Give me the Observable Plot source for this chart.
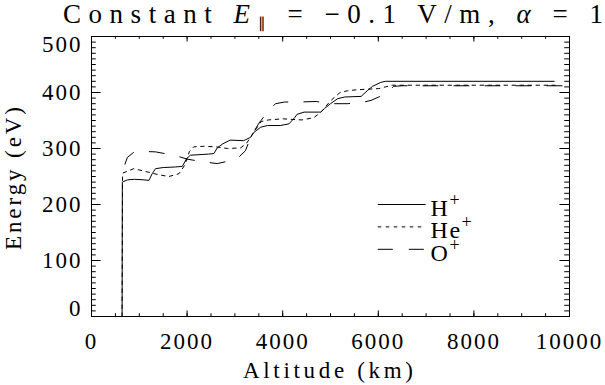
<!DOCTYPE html>
<html><head><meta charset="utf-8">
<script src="https://cdn.jsdelivr.net/npm/d3@7"></script>
<script src="https://cdn.jsdelivr.net/npm/@observablehq/plot@0.6"></script>
<style>body{margin:0;background:#fff} svg{display:block}</style>
</head><body><div id="chart"></div>
<script>
// H+ (solid)
const hAlt    = [640, 645, 750, 900, 1100, 1200, 1270, 1340, 1500, 1750, 1900, 1990, 2070, 2250, 2450, 2560, 2630, 2740, 2900, 3180, 3330, 3400, 3540, 3680, 3950, 4130, 4250, 4300, 4450, 4800, 4870, 5000, 5150, 5300, 5640, 5780, 5880, 6050, 6150, 9680];
const hEnergy = [0, 240, 244, 245, 244, 243, 255, 264, 266, 267, 268, 282, 288, 289, 290, 291, 301, 308, 315, 314, 320, 329, 338, 341, 341, 344, 355, 361, 365, 365, 371, 380, 389, 392, 393, 404, 411, 418, 420, 420];
// He+ (short dashes)
const heAlt    = [640, 650, 885, 1130, 1410, 1620, 1830, 1950, 2050, 2140, 2350, 2600, 2850, 3120, 3250, 3400, 3550, 3700, 4000, 4400, 4650, 4800, 5000, 5200, 5350, 5560, 5800, 6010, 6150, 6300, 9700];
const heEnergy = [0, 256, 264, 259, 253, 250, 255, 270, 295, 303, 304, 303, 300, 301, 310, 330, 348, 351, 353, 351, 355, 365, 385, 400, 403, 405, 406, 407, 410, 413, 413];
// O+ (long dashes)
const oAlt    = [700, 750, 880, 1000, 1340, 1650, 1850, 2000, 2280, 2630, 2940, 3050, 3220, 3330, 3500, 3710, 3850, 4040, 4350, 4700, 4960, 5350, 5660, 5850, 6010, 6190, 6320, 6500, 9950];
const oEnergy = [272, 284, 293, 295, 294, 289, 285, 281, 277, 273, 279, 282, 296, 320, 345, 368, 380, 383, 383, 384, 380, 380, 382, 386, 392, 400, 411, 412, 412];

const xTicks = [0, 2000, 4000, 6000, 8000, 10000];
const yTicks = [0, 100, 200, 300, 400, 500];
const xMinor = d3.range(0, 10001, 500);
const yMinor = d3.range(0, 501, 10);

const legendNames = ["H", "He", "O"];
const legendE = [200, 160, 120];
const legendX = [6000, 7000];

const toRows = (xs, ys) => xs.map((x, i) => ({x, y: ys[i]}));
const hRows = toRows(hAlt, hEnergy);
const heRows = toRows(heAlt, heEnergy);
const oRows = toRows(oAlt, oEnergy);

const W = 605, H = 385, mL = 91, mR = 36, mT = 36, mB = 69;
const iw = W - mL - mR, ih = H - mT - mB;
const xLen = 0.02 * ih, yLen = 0.02 * iw;
const FONT = "Liberation Serif";
const ink = {stroke: "black", strokeWidth: 1};
const lab = {fontFamily: FONT, fontSize: 23, fill: "black"};

const chart = Plot.plot({
  width: W, height: H,
  marginLeft: mL, marginRight: mR, marginTop: mT, marginBottom: mB,
  x: {domain: [0, 10000], axis: null},
  y: {domain: [0, 500], axis: null},
  style: {background: "white"},
  marks: [
    Plot.frame(ink),
    Plot.tickX(xTicks, {x: d => d, insetTop: ih - xLen, ...ink}),
    Plot.tickX(xTicks, {x: d => d, insetBottom: ih - xLen, ...ink}),
    Plot.tickX(xMinor, {x: d => d, insetTop: ih - xLen / 2, ...ink}),
    Plot.tickX(xMinor, {x: d => d, insetBottom: ih - xLen / 2, ...ink}),
    Plot.tickY(yTicks, {y: d => d, insetRight: iw - yLen, ...ink}),
    Plot.tickY(yTicks, {y: d => d, insetLeft: iw - yLen, ...ink}),
    Plot.tickY(yMinor, {y: d => d, insetRight: iw - yLen / 2, ...ink}),
    Plot.tickY(yMinor, {y: d => d, insetLeft: iw - yLen / 2, ...ink}),
    Plot.text(xTicks, {x: d => d, text: d => String(d), frameAnchor: "bottom", lineAnchor: "top", dy: 16, ...lab}),
    Plot.text(yTicks.slice(1, -1), {y: d => d, text: d => String(d), frameAnchor: "left", textAnchor: "end", dx: -9, ...lab}),
    Plot.text(yTicks.slice(-1), {y: d => d, text: d => String(d), frameAnchor: "left", textAnchor: "end", dx: -9, dy: 8, ...lab}),
    Plot.text(yTicks.slice(0, 1), {y: d => d, text: d => String(d), frameAnchor: "left", textAnchor: "end", dx: -9, dy: -8, ...lab}),
    Plot.line(hRows, {x: "x", y: "y", ...ink}),
    Plot.line(heRows, {x: "x", y: "y", ...ink, strokeDasharray: "3.5,4.5"}),
    Plot.line(oRows, {x: "x", y: "y", ...ink, strokeDasharray: "15,16"}),
    Plot.ruleY([legendE[0]], {y: d => d, x1: legendX[0], x2: legendX[1], ...ink}),
    Plot.ruleY([legendE[1]], {y: d => d, x1: legendX[0], x2: legendX[1], ...ink, strokeDasharray: "3.5,4.5"}),
    Plot.ruleY([legendE[2]], {y: d => d, x1: legendX[0], x2: legendX[1], ...ink, strokeDasharray: "15,16"})
  ]
});

const svg = d3.select(chart);
const sx = chart.scale("x"), sy = chart.scale("y");

// tick label spacing (Hershey-like wide digits)
svg.selectAll("text").attr("letter-spacing", "2");

// legend labels
legendNames.forEach((n, i) => {
  const t = svg.append("text")
    .attr("x", sx.apply(legendX[1]) + 5)
    .attr("y", sy.apply(legendE[i]) + 12)
    .attr("text-anchor", "start")
    .attr("font-family", FONT).attr("font-size", 24).attr("letter-spacing", "1.5").attr("fill", "black");
  t.append("tspan").text(n);
  t.append("tspan").attr("dy", -10).attr("font-size", 18).text("+");
});

// title
const title = svg.append("text")
  .attr("x", 63).attr("y", 23)
  .attr("text-anchor", "start").attr("font-family", FONT)
  .attr("font-size", 27).attr("textLength", 540).attr("lengthAdjust", "spacing").attr("fill", "black");
title.append("tspan").text("Constant ");
title.append("tspan").attr("font-style", "italic").text("E");
title.append("tspan").attr("font-size", 15).attr("dy", 5).text("∥");
title.append("tspan").attr("dy", -5).text(" = −0.1 V/m, ");
title.append("tspan").attr("font-style", "italic").text("α");
title.append("tspan").text(" = 1");

// axis titles
svg.append("text")
  .attr("x", 243).attr("y", 378)
  .attr("text-anchor", "start").attr("font-family", FONT).attr("font-size", 23)
  .attr("textLength", 170).attr("lengthAdjust", "spacing").attr("fill", "black")
  .text("Altitude (km)");
svg.append("text")
  .attr("transform", `translate(21,250) rotate(-90)`)
  .attr("text-anchor", "start").attr("font-family", FONT).attr("font-size", 23)
  .attr("textLength", 143).attr("lengthAdjust", "spacing").attr("fill", "black")
  .text("Energy (eV)");

document.getElementById("chart").appendChild(chart);
</script>
</body></html>
